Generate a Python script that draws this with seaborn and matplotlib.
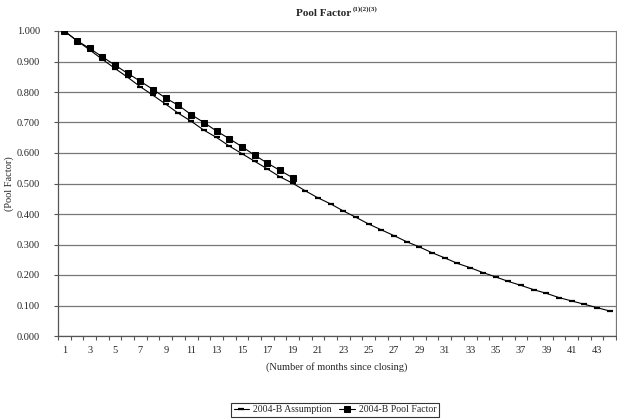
import matplotlib
matplotlib.use("Agg")
import matplotlib.pyplot as plt
import seaborn as sns
import pandas as pd
import numpy as np
from matplotlib.ticker import FixedLocator, FormatStrFormatter

months = list(range(1, 45))
assumption = [1.000, 0.968, 0.938, 0.907, 0.877, 0.848, 0.817, 0.789, 0.760, 0.730,
              0.704, 0.675, 0.651, 0.623, 0.598, 0.573, 0.548, 0.522, 0.501, 0.476,
              0.453, 0.433, 0.410, 0.389, 0.367, 0.348, 0.329, 0.309, 0.292, 0.273,
              0.256, 0.238, 0.224, 0.208, 0.194, 0.179, 0.166, 0.152, 0.140, 0.126,
              0.115, 0.104, 0.093, 0.082]
pool_months = list(range(1, 20))
pool_factor = [1.000, 0.968, 0.943, 0.915, 0.888, 0.861, 0.835, 0.808, 0.780, 0.756,
               0.726, 0.700, 0.672, 0.647, 0.621, 0.593, 0.567, 0.543, 0.519]
series_names = ["2004-B Assumption", "2004-B Pool Factor"]
title_text = "Pool Factor"
title_sup = "(1)(2)(3)"
xlabel_text = "(Number of months since closing)"
ylabel_text = "(Pool Factor)"

sns.set_theme(style="white")
plt.rcParams["font.family"] = ["Liberation Serif", "DejaVu Serif"]

df_a = pd.DataFrame({"month": months, "value": assumption})
df_p = pd.DataFrame({"month": pool_months, "value": pool_factor})

fig = plt.figure(figsize=(6.17, 4.20), dpi=100)
ax = fig.add_axes([58 / 617, 84 / 420, 558 / 617, 305 / 420])

sns.lineplot(data=df_a, x="month", y="value", ax=ax, color="black", linewidth=0.8,
             marker="_", markersize=5, markeredgewidth=1.6, markeredgecolor="black",
             label=series_names[0])
sns.lineplot(data=df_p, x="month", y="value", ax=ax, color="black", linewidth=0.8,
             marker="s", markersize=5, markeredgecolor="black", label=series_names[1])

ax.set_xlim(0.5, 44.5)
ax.set_ylim(0, 1.0)
ax.set_yticks(np.arange(0, 1.01, 0.1))
ax.yaxis.set_major_formatter(FormatStrFormatter("%.3f"))
ax.set_xticks(list(range(1, 45, 2)))
ax.xaxis.set_minor_locator(FixedLocator(np.arange(0.5, 45, 1.0)))
ax.tick_params(axis="x", which="major", length=0, pad=7, labelsize=7.5)
ax.tick_params(axis="x", which="minor", length=3, width=0.8, color="#555555", direction="out", bottom=True)
ax.tick_params(axis="y", which="major", length=3, width=0.8, color="#555555", direction="out", left=True, labelsize=7.5, pad=10)

ax.grid(axis="y", color="#777777", linewidth=0.9)
ax.grid(axis="x", visible=False)
for s in ["left", "bottom"]:
    ax.spines[s].set_color("#555555")
    ax.spines[s].set_linewidth(0.9)
ax.spines["top"].set_visible(False)
ax.spines["right"].set_color("#777777")
ax.spines["right"].set_linewidth(0.9)

ax.set_xlabel(xlabel_text, fontsize=7.5, labelpad=5)
ax.set_ylabel(ylabel_text, fontsize=7.5, labelpad=2)

fig.text(296 / 617, 1 - 13 / 420, title_text, ha="left", va="center", fontsize=8, fontweight="bold")
fig.text(353 / 617, 1 - 9 / 420, title_sup, ha="left", va="center", fontsize=5, fontweight="bold")

ax.get_legend().remove()
handles, labels = ax.get_legend_handles_labels()
leg = fig.legend(handles, labels, loc="center", bbox_to_anchor=(335 / 617, 10 / 420), ncol=2,
                 fontsize=7, frameon=True, fancybox=False, edgecolor="black",
                 handlelength=1.6, columnspacing=0.8, borderpad=0.25, handletextpad=0.4)
leg.get_frame().set_linewidth(0.8)

fig.savefig("out.png", dpi=100)
